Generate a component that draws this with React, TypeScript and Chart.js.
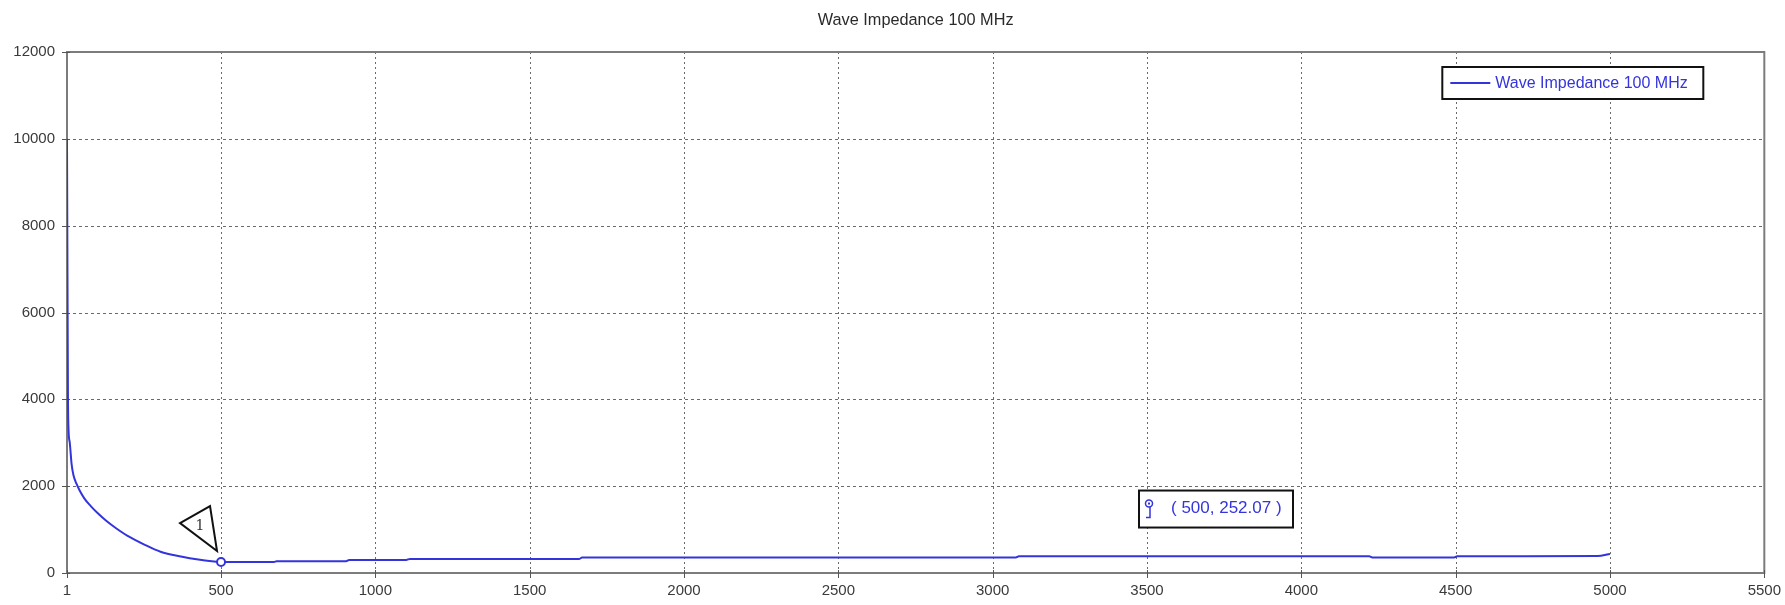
import React, { useEffect, useRef } from "react";
import { Chart, registerables } from "chart.js";

Chart.register(...registerables);

const chartTitle = "Wave Impedance 100 MHz";
const seriesLabel = "Wave Impedance 100 MHz";

// distance along the line and the wave impedance at that distance
const distance = [
  1, 2, 4, 6, 10, 16, 22, 32, 42, 57, 78, 100, 130, 160, 196, 250, 304, 370, 432, 470, 500,
  600, 672, 680, 905, 915, 1100, 1112, 1660, 1670, 3075, 3085,
  4220, 4230, 4495, 4505, 4960, 5000,
];
const impedance = [
  10000, 7900, 4200, 3300, 3000, 2500, 2250, 2050, 1900, 1720, 1540, 1380, 1190, 1030, 860, 660, 490, 380, 305, 272, 252.07,
  252, 255, 272, 272, 302, 302, 324, 324, 355, 355, 385,
  385, 358, 358, 385, 390, 440,
];

const xTicks = [1, 500, 1000, 1500, 2000, 2500, 3000, 3500, 4000, 4500, 5000, 5500];
const yTicks = [0, 2000, 4000, 6000, 8000, 10000, 12000];

// marker 1 and its coordinate readout
const markerX = 500;
const markerY = 252.07;
const markerTag = "1";
const readoutAt = { x: 3500, y: 1600 };

const FONT = "'Liberation Sans', Arial, sans-serif";
const BLUE = "#3434dc";

const decor = {
  id: "decor",
  beforeDatasetsDraw(chart: any) {
    const { ctx, chartArea: a, scales } = chart;
    const x = scales.x;
    const y = scales.y;
    const seg = (x1: number, y1: number, x2: number, y2: number) => {
      ctx.beginPath();
      ctx.moveTo(x1, y1);
      ctx.lineTo(x2, y2);
      ctx.stroke();
    };
    ctx.save();
    ctx.lineWidth = 1;
    ctx.strokeStyle = "#6a6a6a";
    ctx.setLineDash([2, 3]);
    xTicks.forEach((v) => {
      if (v <= x.min || v >= x.max) return;
      const px = Math.round(x.getPixelForValue(v)) + 0.5;
      seg(px, a.top, px, a.bottom);
    });
    ctx.setLineDash([3, 3]);
    yTicks.forEach((v) => {
      if (v <= y.min || v >= y.max) return;
      const py = Math.round(y.getPixelForValue(v)) + 0.5;
      seg(a.left, py, a.right, py);
    });
    ctx.setLineDash([]);
    ctx.strokeStyle = "#7c7c7c";
    ctx.lineWidth = 2;
    ctx.strokeRect(a.left, a.top, a.right - a.left, a.bottom - a.top);
    ctx.lineWidth = 1;
    ctx.strokeStyle = "#555";
    xTicks.forEach((v) => {
      const px = Math.round(x.getPixelForValue(v)) + 0.5;
      seg(px, a.bottom - 3, px, a.bottom + 5);
    });
    yTicks.forEach((v) => {
      const py = Math.round(y.getPixelForValue(v)) + 0.5;
      seg(a.left - 5, py, a.left + 3, py);
    });
    ctx.restore();
  },
  afterDatasetsDraw(chart: any) {
    const { ctx, chartArea: a, scales } = chart;
    const x = scales.x;
    const y = scales.y;
    ctx.save();

    // title
    ctx.fillStyle = "#2a2a2a";
    ctx.font = `16.3px ${FONT}`;
    ctx.textAlign = "center";
    ctx.textBaseline = "middle";
    ctx.fillText(chartTitle, (a.left + a.right) / 2, 21);

    // callout triangle for marker 1
    const mx = x.getPixelForValue(markerX);
    const my = y.getPixelForValue(markerY);
    ctx.beginPath();
    ctx.moveTo(mx - 41, my - 39);
    ctx.lineTo(mx - 11, my - 56);
    ctx.lineTo(mx - 4, my - 11);
    ctx.closePath();
    ctx.fillStyle = "#ffffff";
    ctx.fill();
    ctx.strokeStyle = "#111";
    ctx.lineWidth = 2;
    ctx.stroke();
    ctx.fillStyle = "#333";
    ctx.font = `14px 'DejaVu Serif', 'Liberation Serif', serif`;
    ctx.textAlign = "center";
    ctx.fillText(markerTag, mx - 21, my - 36);

    // coordinate readout box
    const px = x.getPixelForValue(readoutAt.x);
    const py = y.getPixelForValue(readoutAt.y);
    const bx = px - 8;
    const by = py - 13;
    const bw = 154;
    const bh = 37;
    ctx.fillStyle = "#ffffff";
    ctx.fillRect(bx, by, bw, bh);
    ctx.strokeStyle = "#111";
    ctx.lineWidth = 2;
    ctx.strokeRect(bx, by, bw, bh);
    ctx.strokeStyle = BLUE;
    ctx.lineWidth = 1.5;
    ctx.beginPath();
    ctx.arc(px + 2, py, 3.5, 0, Math.PI * 2);
    ctx.stroke();
    ctx.fillStyle = BLUE;
    ctx.fillRect(px + 1, py - 1, 2, 2);
    ctx.beginPath();
    ctx.moveTo(px + 3, py + 3.5);
    ctx.lineTo(px + 3, py + 14);
    ctx.lineTo(px - 1, py + 14);
    ctx.stroke();
    ctx.fillStyle = BLUE;
    ctx.font = `17px ${FONT}`;
    ctx.textAlign = "left";
    ctx.textBaseline = "middle";
    ctx.fillText(`( ${markerX}, ${markerY.toFixed(2)} )`, px + 24, py + 5);

    // legend
    const lw = 261;
    const lh = 32;
    const lx = a.right - 61 - lw;
    const ly = a.top + 15;
    ctx.fillStyle = "#ffffff";
    ctx.fillRect(lx, ly, lw, lh);
    ctx.strokeStyle = "#111";
    ctx.lineWidth = 2;
    ctx.strokeRect(lx, ly, lw, lh);
    ctx.strokeStyle = BLUE;
    ctx.lineWidth = 2;
    ctx.beginPath();
    ctx.moveTo(lx + 8, ly + lh / 2);
    ctx.lineTo(lx + 48, ly + lh / 2);
    ctx.stroke();
    ctx.fillStyle = BLUE;
    ctx.font = `16px ${FONT}`;
    ctx.textAlign = "left";
    ctx.fillText(seriesLabel, lx + 53, ly + lh / 2 + 1);

    ctx.restore();
  },
};

export default function App() {
  const ref = useRef<HTMLCanvasElement | null>(null);

  useEffect(() => {
    document.body.style.margin = "0";
    const canvas = ref.current;
    if (!canvas) return;
    const chart = new Chart(canvas, {
      type: "line",
      data: {
        datasets: [
          {
            label: seriesLabel,
            data: distance.map((d, i) => ({ x: d, y: impedance[i] })),
            borderColor: BLUE,
            borderWidth: 2,
            cubicInterpolationMode: "monotone",
            pointRadius: (c: any) => (distance[c.dataIndex] === markerX ? 4 : 0),
            pointStyle: "circle",
            pointBorderWidth: 2,
            pointBorderColor: BLUE,
            pointBackgroundColor: "#ffffff",
          },
        ],
      },
      options: {
        responsive: false,
        animation: false,
        events: [],
        layout: { padding: { top: 52, right: 18, left: 0, bottom: 0 } },
        plugins: {
          legend: { display: false },
          title: { display: false },
          tooltip: { enabled: false },
        },
        scales: {
          x: {
            type: "linear",
            min: 1,
            max: 5500,
            afterBuildTicks: (s: any) => {
              s.ticks = xTicks.map((v) => ({ value: v }));
            },
            afterFit: (s: any) => {
              s.height = 32;
            },
            grid: { display: false, drawTicks: true, tickLength: 5 },
            border: { display: false },
            ticks: {
              autoSkip: false,
              maxRotation: 0,
              padding: 4,
              color: "#3a3a3a",
              font: { family: FONT, size: 15 },
              callback: (v: any) => String(v),
            },
          },
          y: {
            type: "linear",
            min: 0,
            max: 12000,
            afterBuildTicks: (s: any) => {
              s.ticks = yTicks.map((v) => ({ value: v }));
            },
            afterFit: (s: any) => {
              s.width = 67;
            },
            grid: { display: false, drawTicks: true, tickLength: 5 },
            border: { display: false },
            ticks: {
              padding: 7,
              color: "#3a3a3a",
              font: { family: FONT, size: 15 },
              callback: (v: any) => String(v),
            },
          },
        },
      },
      plugins: [decor],
    });
    return () => chart.destroy();
  }, []);

  return (
    <div style={{ width: 1785, height: 605, background: "#ffffff" }}>
      <canvas ref={ref} width={1785} height={605} style={{ display: "block" }} />
    </div>
  );
}
